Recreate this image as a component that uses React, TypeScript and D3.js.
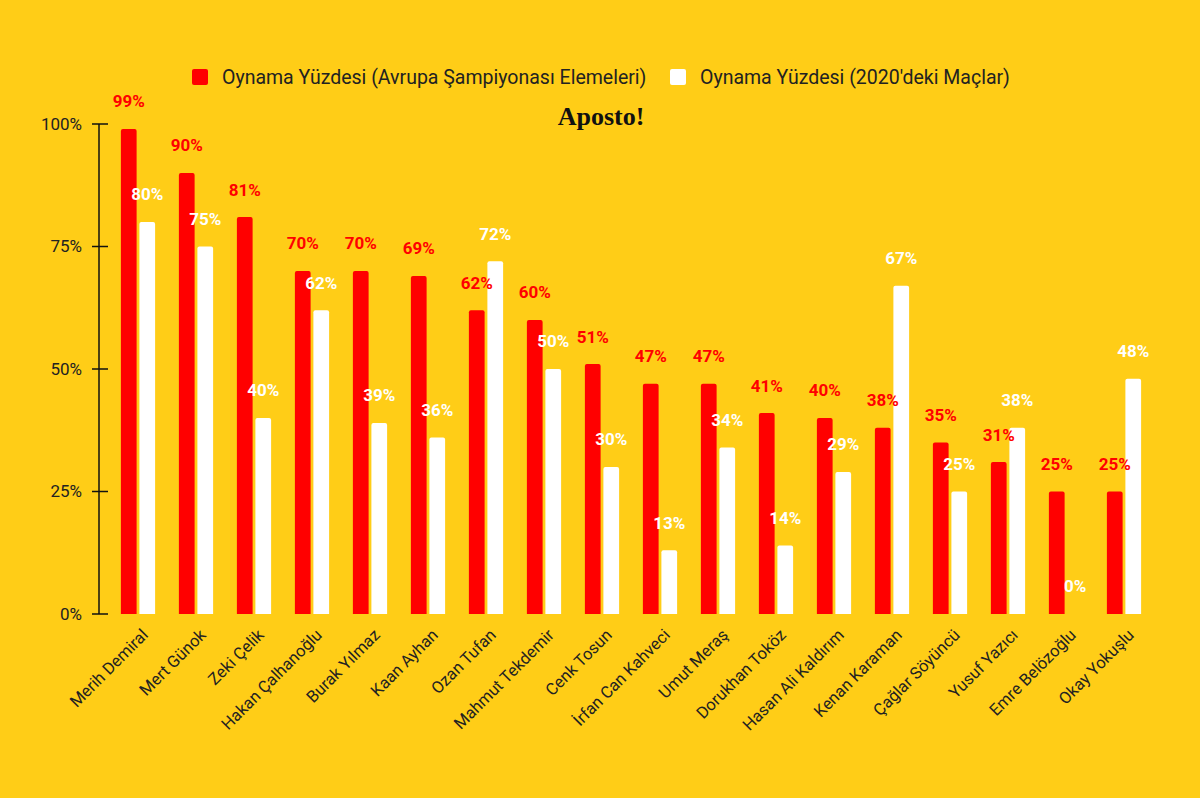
import React from "react";
import * as d3 from "d3";

const players = [
  "Merih Demiral", "Mert Günok", "Zeki Çelik", "Hakan Çalhanoğlu", "Burak Yılmaz",
  "Kaan Ayhan", "Ozan Tufan", "Mahmut Tekdemir", "Cenk Tosun", "İrfan Can Kahveci",
  "Umut Meraş", "Dorukhan Toköz", "Hasan Ali Kaldırım", "Kenan Karaman",
  "Çağlar Söyüncü", "Yusuf Yazıcı", "Emre Belözoğlu", "Okay Yokuşlu",
];
const euroQualifiers = [99, 90, 81, 70, 70, 69, 62, 60, 51, 47, 47, 41, 40, 38, 35, 31, 25, 25];
const matches2020 = [80, 75, 40, 62, 39, 36, 72, 50, 30, 13, 34, 14, 29, 67, 25, 38, 0, 48];
const yTicks = [0, 25, 50, 75, 100];
const seriesNames = [
  "Oynama Yüzdesi (Avrupa Şampiyonası Elemeleri)",
  "Oynama Yüzdesi (2020'deki Maçlar)",
];
const seriesColors = ["#FF0000", "#FFFFFF"];

const W = 1200;
const H = 798;
const BG = "#FFCD17";
const FONT = "Roboto, 'Noto Sans', sans-serif";

function topRoundedBar(x: number, y: number, w: number, h: number, r: number) {
  const rr = Math.min(r, h / 2, w / 2);
  if (h <= 0) return "";
  return `M${x},${y + h}V${y + rr}Q${x},${y} ${x + rr},${y}H${x + w - rr}Q${x + w},${y} ${x + w},${y + rr}V${y + h}Z`;
}

export default function App() {
  const x0 = d3.scaleBand<string>().domain(players).range([109, 1153]).paddingInner(0.41).paddingOuter(0.205);
  const x1 = d3.scaleBand<string>().domain(["a", "b"]).range([0, x0.bandwidth()]).paddingInner(0.15);
  const y = d3.scaleLinear().domain([0, 100]).range([614, 124]);
  const series = [euroQualifiers, matches2020];
  const keys = ["a", "b"];

  return (
    <svg width={W} height={H} style={{ position: "absolute", left: 0, top: 0, display: "block" }}>
      <rect x={0} y={0} width={W} height={H} fill={BG} />
      {/* legend */}
      <g fontFamily={FONT} fontSize={19.5} fill="#222">
        <rect x={192} y={69} width={16} height={16} rx={2} fill={seriesColors[0]} />
        <text x={222} y={77} dy="0.35em">{seriesNames[0]}</text>
        <rect x={670} y={69} width={16} height={16} rx={2} fill={seriesColors[1]} />
        <text x={700} y={77} dy="0.35em">{seriesNames[1]}</text>
      </g>
      <text x={601} y={116} dy="0.35em" textAnchor="middle" fontFamily="'Liberation Serif', 'DejaVu Serif', serif" fontWeight="bold" fontSize={26} fill="#111">Aposto!</text>
      {/* y axis */}
      <g>
        <line x1={99} x2={99} y1={y(0)} y2={y(100)} stroke="#111" strokeWidth={1.5} />
        {yTicks.map((t) => (
          <g key={t}>
            <line x1={92} x2={108} y1={y(t)} y2={y(t)} stroke="#111" strokeWidth={1.5} />
            <text x={82} y={y(t)} dy="0.35em" textAnchor="end" fontFamily={FONT} fontSize={17} fill="#222">{t}%</text>
          </g>
        ))}
      </g>
      {/* bars */}
      {players.map((p, i) => (
        <g key={p} transform={`translate(${x0(p)},0)`}>
          {series.map((s, si) => {
            const bx = x1(keys[si])!;
            const bw = x1.bandwidth();
            return (
              <path key={si} d={topRoundedBar(bx, y(s[i]), bw, y(0) - y(s[i]), 2)} fill={seriesColors[si]} />
            );
          })}
          {series.map((s, si) => {
            const bx = x1(keys[si])!;
            const bw = x1.bandwidth();
            return (
              <text key={"l" + si} x={bx + bw / 2} y={y(s[i]) - 27.5} dy="0.35em" textAnchor="middle"
                fontFamily={FONT} fontWeight="bold" fontSize={17} fill={seriesColors[si]}>{s[i]}%</text>
            );
          })}
        </g>
      ))}
      {/* x labels */}
      {players.map((p) => {
        const cx = x0(p)! + x0.bandwidth() / 2;
        return (
          <text key={"x" + p} transform={`translate(${cx + 11},${636}) rotate(-45)`} textAnchor="end"
            fontFamily={FONT} fontSize={16.5} fill="#222">{p}</text>
        );
      })}
    </svg>
  );
}
